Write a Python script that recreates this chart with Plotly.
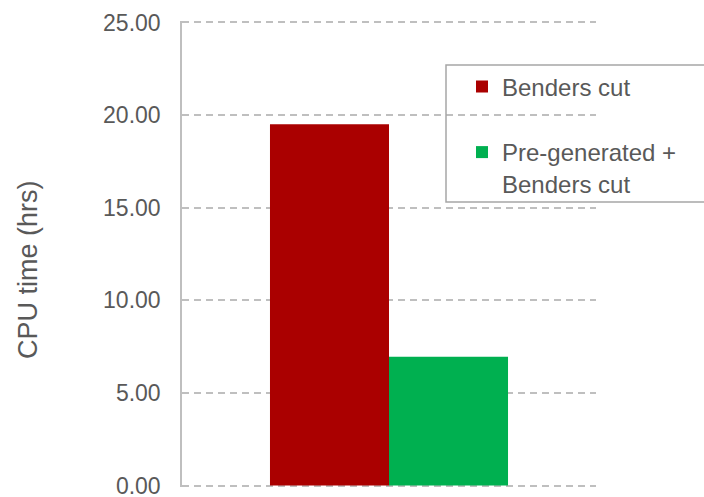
import plotly.graph_objects as go

categories = ["CPU time"]
series_names = ["Benders cut", "Pre-generated +<br>Benders cut"]
benders_cut = [19.5]
pregen_benders = [6.95]
y_ticks = [0, 5, 10, 15, 20, 25]
y_tick_labels = ["0.00", "5.00", "10.00", "15.00", "20.00", "25.00"]
y_title = "CPU time (hrs)"

FONT = "Liberation Sans, Arial, sans-serif"
TXT = "#595959"
GRID = "#bfbfbf"

fig = go.Figure()
fig.add_trace(go.Bar(x=categories, y=benders_cut, name=series_names[0],
                     marker=dict(color="#aa0000", line=dict(width=0)),
                     legend="legend"))
fig.add_trace(go.Bar(x=categories, y=pregen_benders, name=series_names[1],
                     marker=dict(color="#00b050", line=dict(width=0)),
                     legend="legend2"))

W, H = 704, 497
L, R, T, B = 182, 108, 21, 10
pw, ph = W - L - R, H - T - B

def px(x):
    return (x - L) / pw

def py(y):
    return (H - B - y) / ph

fig.update_layout(
    width=W, height=H,
    margin=dict(l=L, r=R, t=T, b=B, autoexpand=False),
    paper_bgcolor="white", plot_bgcolor="white",
    font=dict(family=FONT, color=TXT, size=23),
    barmode="group", bargap=0.425, bargroupgap=0,
    showlegend=True,
    legend=dict(x=px(462), y=py(87), xanchor="left", yanchor="middle",
                bgcolor="rgba(0,0,0,0)", borderwidth=0,
                font=dict(size=24, color=TXT, family=FONT), valign="top"),
    legend2=dict(x=px(462), y=py(168), xanchor="left", yanchor="middle",
                 bgcolor="rgba(0,0,0,0)", borderwidth=0,
                 font=dict(size=24, color=TXT, family=FONT), valign="top"),
    xaxis=dict(showticklabels=False, showgrid=False, showline=False,
               zeroline=False, ticks=""),
    yaxis=dict(range=[-0.08, 25.08], tickvals=y_ticks, ticktext=y_tick_labels,
               showgrid=True, gridcolor=GRID, gridwidth=1.5, griddash="7px,5px",
               zeroline=False, showline=True, linecolor=GRID, linewidth=1.5,
               ticks="", ticklabelstandoff=15, ticklabeloverflow="allow",
               tickfont=dict(size=23, color=TXT, family=FONT)),
    annotations=[dict(text=y_title, xref="paper", yref="paper",
                      x=px(28), y=py(270), xanchor="center", yanchor="middle",
                      textangle=-90, showarrow=False,
                      font=dict(size=27, color=TXT, family=FONT))],
    shapes=[dict(type="rect", xref="paper", yref="paper",
                 x0=px(446), x1=px(720), y0=py(202), y1=py(65),
                 line=dict(color="#a6a6a6", width=1.5), fillcolor="rgba(0,0,0,0)",
                 layer="above")],
)

fig.write_html("out.html")
